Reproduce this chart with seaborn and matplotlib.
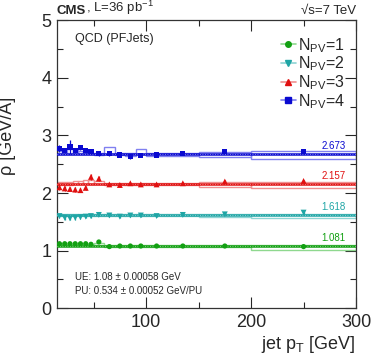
import numpy as np
import pandas as pd
import matplotlib
matplotlib.use("Agg")
import matplotlib.pyplot as plt
from matplotlib.lines import Line2D
from matplotlib.ticker import MultipleLocator
import seaborn as sns

# ---- data ----
bin_edges = [15, 20, 25, 30, 35, 40, 45, 50, 60, 70, 80, 90, 100, 120, 150, 200, 300]
pt = [17.5, 22.5, 27.5, 32.5, 37.5, 42.5, 47.5, 55, 65, 75, 85, 95, 110, 135, 175, 250]

npv_labels = ["1", "2", "3", "4"]
rho_npv1 = [1.12, 1.12, 1.12, 1.12, 1.12, 1.12, 1.11, 1.15, 1.07, 1.08, 1.08, 1.08, 1.08, 1.08, 1.08, 1.07]
rho_npv2 = [1.60, 1.57, 1.56, 1.57, 1.58, 1.59, 1.60, 1.62, 1.61, 1.59, 1.61, 1.61, 1.60, 1.62, 1.63, 1.66]
rho_npv3 = [2.10, 2.08, 2.07, 2.06, 2.05, 2.09, 2.28, 2.25, 2.15, 2.14, 2.17, 2.15, 2.15, 2.17, 2.20, 2.21]
rho_npv4 = [2.78, 2.74, 2.80, 2.74, 2.79, 2.74, 2.72, 2.68, 2.69, 2.66, 2.63, 2.65, 2.66, 2.68, 2.72, 2.72]
err_npv1 = [0.02, 0.02, 0.02, 0.02, 0.02, 0.02, 0.02, 0.02, 0.01, 0.01, 0.01, 0.01, 0.01, 0.01, 0.01, 0.01]
err_npv2 = [0.03, 0.03, 0.03, 0.03, 0.03, 0.03, 0.03, 0.02, 0.02, 0.02, 0.02, 0.02, 0.02, 0.02, 0.02, 0.02]
err_npv3 = [0.04, 0.04, 0.04, 0.04, 0.04, 0.04, 0.05, 0.04, 0.03, 0.03, 0.03, 0.03, 0.02, 0.02, 0.02, 0.02]
err_npv4 = [0.06, 0.05, 0.12, 0.05, 0.05, 0.05, 0.05, 0.04, 0.04, 0.03, 0.03, 0.03, 0.03, 0.02, 0.02, 0.02]

# MC boxes (low, high)
mc_lo_npv1 = [1.09, 1.09, 1.09, 1.09, 1.09, 1.09, 1.09, 1.10, 1.06, 1.06, 1.06, 1.06, 1.06, 1.06, 1.06, 1.01]
mc_hi_npv1 = [1.12, 1.12, 1.12, 1.12, 1.12, 1.12, 1.12, 1.14, 1.09, 1.09, 1.09, 1.09, 1.09, 1.09, 1.09, 1.09]
mc_lo_npv2 = [1.60, 1.60, 1.60, 1.60, 1.60, 1.60, 1.60, 1.60, 1.60, 1.60, 1.60, 1.60, 1.60, 1.60, 1.58, 1.56]
mc_hi_npv2 = [1.63, 1.63, 1.63, 1.63, 1.63, 1.63, 1.64, 1.64, 1.64, 1.63, 1.63, 1.64, 1.63, 1.64, 1.64, 1.63]
mc_lo_npv3 = [2.14, 2.14, 2.14, 2.15, 2.15, 2.15, 2.15, 2.15, 2.14, 2.14, 2.14, 2.14, 2.14, 2.14, 2.11, 2.08]
mc_hi_npv3 = [2.19, 2.20, 2.20, 2.21, 2.21, 2.22, 2.23, 2.21, 2.18, 2.18, 2.18, 2.18, 2.18, 2.18, 2.19, 2.19]
mc_lo_npv4 = [2.67, 2.67, 2.68, 2.68, 2.68, 2.67, 2.67, 2.66, 2.68, 2.66, 2.65, 2.68, 2.65, 2.65, 2.63, 2.59]
mc_hi_npv4 = [2.73, 2.72, 2.76, 2.74, 2.73, 2.71, 2.70, 2.70, 2.80, 2.69, 2.69, 2.77, 2.69, 2.69, 2.71, 2.73]

fit_values = [1.081, 1.618, 2.157, 2.673]
fit_labels = ["1.081", "1.618", "2.157", "2.673"]

x_ticks = [100, 200, 300]
y_ticks = [0, 1, 2, 3, 4, 5]

# ---- style ----
sns.set_style("ticks")
plt.rcParams["font.family"] = ["Liberation Sans", "DejaVu Sans"]
plt.rcParams["mathtext.fontset"] = "custom"
plt.rcParams["mathtext.rm"] = "Liberation Sans"
plt.rcParams["mathtext.it"] = "Liberation Sans"

colors = ["#12a012", "#1fa5a5", "#e01010", "#0a0ad0"]
light = ["#8fd88f", "#8fd4d4", "#f09090", "#8080f0"]
markers = ["o", "v", "^", "s"]
msizes = [14, 18, 18, 14]

rhos = [rho_npv1, rho_npv2, rho_npv3, rho_npv4]
errs = [err_npv1, err_npv2, err_npv3, err_npv4]
mclo = [mc_lo_npv1, mc_lo_npv2, mc_lo_npv3, mc_lo_npv4]
mchi = [mc_hi_npv1, mc_hi_npv2, mc_hi_npv3, mc_hi_npv4]

fig = plt.figure(figsize=(3.74, 3.63), dpi=100)
ax = fig.add_axes([0.152, 0.151, 0.800, 0.793])

edges = np.array(bin_edges)
widths = np.diff(edges)
lefts = edges[:-1]

rows = []
for i, lab in enumerate(npv_labels):
    for x, y in zip(pt, rhos[i]):
        rows.append({"pt": x, "rho": y, "npv": lab})
df = pd.DataFrame(rows)

for i in range(4):
    lo = np.array(mclo[i]); hi = np.array(mchi[i])
    ax.bar(lefts, hi - lo, bottom=lo, width=widths, align="edge", fill=False,
           edgecolor=light[i], linewidth=1.0, zorder=2)
    fitdf = pd.DataFrame({"pt": [bin_edges[0], bin_edges[-1]], "rho": [fit_values[i]] * 2})
    sns.lineplot(data=fitdf, x="pt", y="rho", color=colors[i], linewidth=1.8, ax=ax, zorder=3)
    ax.plot([bin_edges[0], bin_edges[-1]], [fit_values[i]] * 2, color="white",
            linewidth=0.6, linestyle=(0, (1, 2)), alpha=0.6, zorder=3.5)
    ax.errorbar(pt, rhos[i], yerr=errs[i], fmt="none", ecolor=colors[i], elinewidth=0.9, zorder=4)
    ax.text(290, fit_values[i] + 0.05, fit_labels[i], color=colors[i], fontsize=7,
            ha="right", va="bottom")

sns.scatterplot(data=df, x="pt", y="rho", hue="npv", style="npv",
                palette=dict(zip(npv_labels, colors)),
                markers=dict(zip(npv_labels, markers)),
                size="npv", sizes=dict(zip(npv_labels, msizes)),
                edgecolor="none", legend=False, ax=ax, zorder=5)

ax.set_xlim(15, 300)
ax.set_ylim(0, 5)
ax.set_xticks(x_ticks)
ax.set_yticks(y_ticks)
ax.xaxis.set_minor_locator(MultipleLocator(50))
ax.yaxis.set_minor_locator(MultipleLocator(0.5))
ax.tick_params(which="both", direction="in", top=True, right=True, labelsize=13, width=0.8)
ax.tick_params(which="major", length=8, pad=4)
ax.tick_params(which="minor", length=4)
for s in ax.spines.values():
    s.set_linewidth(0.9)
    s.set_color("#333333")

ax.set_xlabel("jet p$_{\\mathregular{T}}$ [GeV]", fontsize=13, loc="right", labelpad=2)
ax.set_ylabel("ρ [GeV/A]", fontsize=13)
ax.yaxis.set_label_coords(-0.135, 0.6)

cms = ax.text(0.0, 1.012, "CMS", transform=ax.transAxes, fontsize=9.5, fontweight="bold",
              ha="left", va="bottom")
ax.annotate(", L=36 pb$^{\\mathregular{-1}}$", xy=(1.0, 0.0), xycoords=cms, fontsize=9.5,
            ha="left", va="bottom")
ax.text(1.0, 1.012, "√s=7 TeV", transform=ax.transAxes, fontsize=9.5, ha="right", va="bottom")
ax.text(0.06, 0.935, "QCD (PFJets)", transform=ax.transAxes, fontsize=9, ha="left", va="center")
ax.text(0.06, 0.108, "UE: 1.08 ± 0.00058 GeV", transform=ax.transAxes, fontsize=7, ha="left", va="center")
ax.text(0.06, 0.058, "PU: 0.534 ± 0.00052 GeV/PU", transform=ax.transAxes, fontsize=7, ha="left", va="center")

handles = [Line2D([0], [0], color=light[i], marker=markers[i], markerfacecolor=colors[i],
                  markeredgecolor=colors[i], markersize=4, linewidth=1.2)
           for i in range(4)]
labels = ["N$_{\\mathregular{PV}}$=%s" % l for l in npv_labels]
leg = ax.legend(handles, labels, loc="upper right", bbox_to_anchor=(1.0, 0.985), frameon=False,
                fontsize=11.5, handlelength=0.9, handletextpad=0.15, labelspacing=0.0,
                borderaxespad=0.3)

fig.savefig("out.png", dpi=100)
